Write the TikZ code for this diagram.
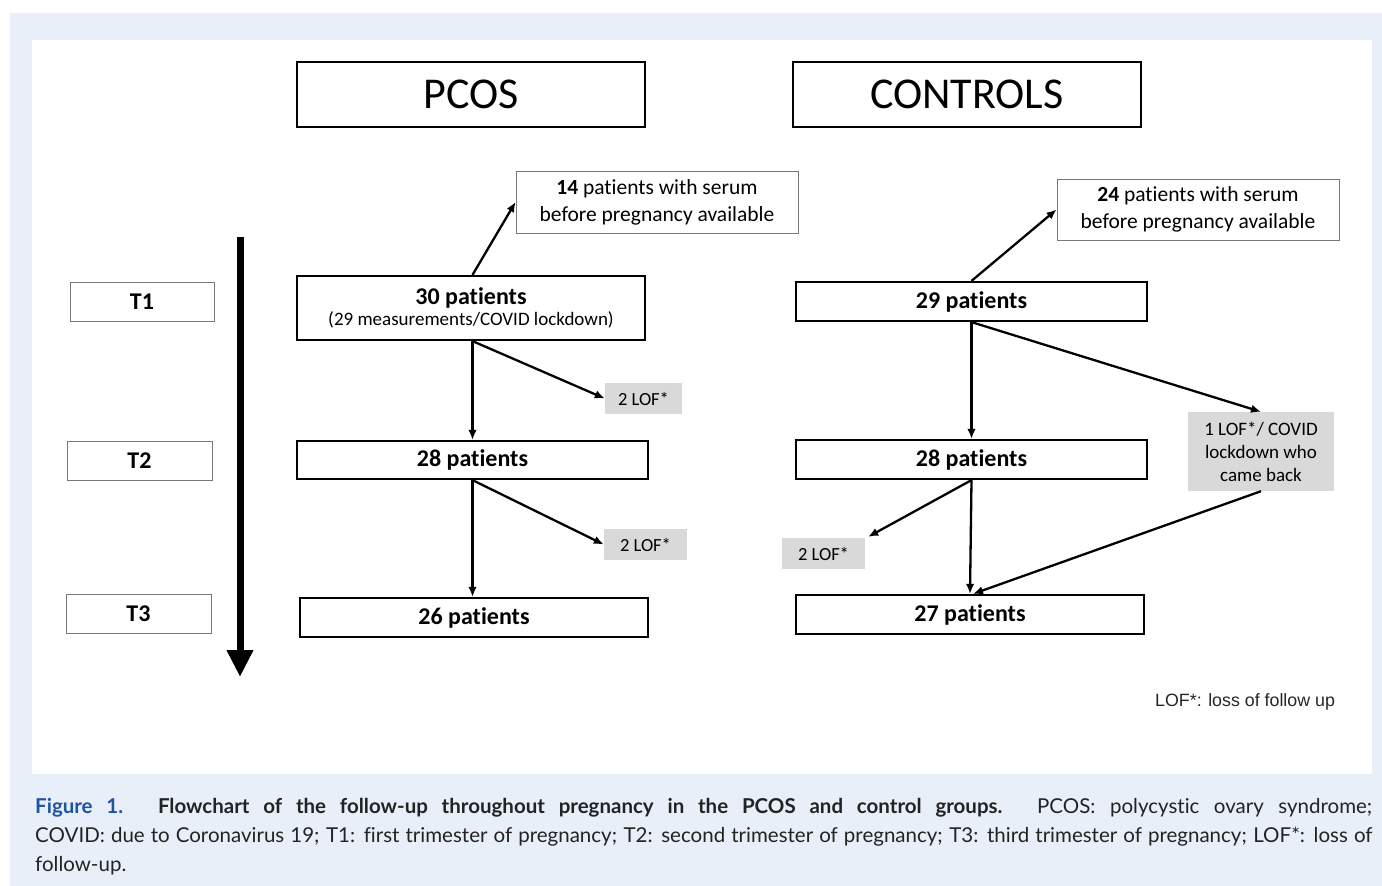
\documentclass[tikz,border=0pt]{standalone}
\usepackage{fontspec}
\usetikzlibrary{arrows.meta}
\newfontfamily\carlito[Ligatures={NoCommon}]{Carlito}
\newfontfamily\legendfont{Liberation Sans}
\newfontfamily\capfont[Ligatures={NoCommon}]{Lato}
\definecolor{bgblue}{RGB}{232,239,248}
\definecolor{lofgray}{RGB}{217,217,217}
\definecolor{thingray}{RGB}{120,120,120}
\definecolor{figblue}{RGB}{30,84,160}
\definecolor{captext}{RGB}{35,35,35}
\tikzset{
  thickbox/.style={draw=black, line width=2.2pt, fill=white, inner sep=0pt, align=center, font=\carlito},
  thinbox/.style={draw=thingray, line width=0.9pt, fill=white, inner sep=0pt, align=center, font=\carlito},
  lofbox/.style={fill=lofgray, inner sep=0pt, align=center, font=\carlito\fontsize{18.5}{22}\selectfont},
  patfont/.style={font=\carlito\fontsize{24}{27}\selectfont\bfseries},
  conn/.style={line width=2.3pt, -{Latex[length=10pt,width=8.5pt]}},
}
\begin{document}
\begin{tikzpicture}[x=1pt,y=-1pt]
\useasboundingbox (0,0) rectangle (1382,886);
\fill[bgblue] (10,13) rectangle (1382,886);
\fill[white] (32,40) rectangle (1372,774);

% headers
\node[thickbox, minimum width=348pt, minimum height=65pt, font=\carlito\fontsize{44}{48}\selectfont] (pcos) at (471,94.5) {PCOS};
\node[thickbox, minimum width=348pt, minimum height=65pt, font=\carlito\fontsize{44}{48}\selectfont] (ctrl) at (967,94.5) {CONTROLS};

% serum boxes
\node[thinbox, minimum width=282pt, minimum height=62pt, font=\carlito\fontsize{21.5}{27}\selectfont] (s14) at (657,202) {\textbf{14} patients with serum\\before pregnancy available};
\node[thinbox, minimum width=282pt, minimum height=61pt, font=\carlito\fontsize{21.5}{27}\selectfont] (s24) at (1198,209.5) {\textbf{24} patients with serum\\before pregnancy available};

% PCOS column
\node[thickbox, minimum width=348pt, minimum height=64pt] (p30) at (471,308) {{\fontsize{24}{27}\selectfont\bfseries 30 patients}\\[2pt]{\fontsize{19}{21}\selectfont (29 measurements/COVID lockdown)}};
\node[thickbox, patfont, minimum width=351pt, minimum height=38pt] (p28a) at (472.5,460) {28 patients};
\node[thickbox, patfont, minimum width=348pt, minimum height=39pt] (p26) at (474,617.5) {26 patients};
\node[lofbox, minimum width=77pt, minimum height=31pt] (lofA) at (643.5,398.5) {2 LOF*};
\node[lofbox, minimum width=83pt, minimum height=31pt] (lofB) at (645.5,544.5) {2 LOF*};

% Controls column
\node[thickbox, patfont, minimum width=351pt, minimum height=39pt] (p29) at (971.5,301.5) {29 patients};
\node[thickbox, patfont, minimum width=351pt, minimum height=39pt] (p28c) at (971.5,459.5) {28 patients};
\node[thickbox, patfont, minimum width=348pt, minimum height=39pt] (p27) at (970,614.5) {27 patients};
\node[lofbox, minimum width=146pt, minimum height=79pt, font=\carlito\fontsize{19}{23}\selectfont] (lofC) at (1261,451.5) {1 LOF*/ COVID\\lockdown who\\came back};
\node[lofbox, minimum width=83pt, minimum height=31pt] (lofD) at (823.5,553.5) {2 LOF*};

% trimester labels
\node[thinbox, minimum width=144pt, minimum height=39pt, font=\carlito\fontsize{24}{27}\selectfont\bfseries] (t1) at (142,301.5) {T1};
\node[thinbox, minimum width=145pt, minimum height=39pt, font=\carlito\fontsize{24}{27}\selectfont\bfseries] (t2) at (139.5,460.5) {T2};
\node[thinbox, minimum width=145pt, minimum height=39pt, font=\carlito\fontsize{24}{27}\selectfont\bfseries] (t3) at (138.5,613.5) {T3};

% time arrow
\coordinate (tstart) at (240,237);
\coordinate (tend) at (240,677);
\draw[line width=7pt, -{Triangle[width=25pt,length=27pt]}] (tstart) -- (tend);

% connectors PCOS
\draw[conn] (p30.north -| p28a.north) -- (s14.west);
\draw[conn] (p30.south -| p28a.north) -- (p28a.north);
\draw[conn] (p30.south -| p28a.north) -- (lofA.west);
\draw[conn] (p28a.south) -- (p28a.south |- p26.north);
\draw[conn] (p28a.south) -- (lofB.west);

% connectors Controls
\draw[conn] (p29.north) -- (s24.west);
\draw[conn] (p29.south) -- (p28c.north);
\draw[conn] (p29.south) -- (lofC.north);
\draw[conn] (p28c.south) -- (p27.north);
\draw[conn] (p28c.south) -- ([xshift=3pt,yshift=1pt]lofD.north east);
\draw[conn] (lofC.south) -- ([xshift=3pt]p27.north);

% legend
\node[font=\legendfont\fontsize{17.8}{20}\selectfont, text=black!85, anchor=base west, inner sep=0pt] (legend) at (1155,706) {LOF*: loss of follow up};

% caption
\node[anchor=base west, inner sep=0pt, text width=1337pt, align=justify, font=\capfont\fontsize{20.5}{29}\selectfont, text=captext] (caption) at (35,813)
{{\color{figblue}\bfseries Figure 1.} \textbf{Flowchart of the follow-up throughout pregnancy in the PCOS and control groups.} PCOS: polycystic ovary syndrome;\linebreak COVID: due to Coronavirus 19; T1: first trimester of pregnancy; T2: second trimester of pregnancy; T3: third trimester of pregnancy; LOF*: loss of\linebreak follow-up.};
\end{tikzpicture}
\end{document}
